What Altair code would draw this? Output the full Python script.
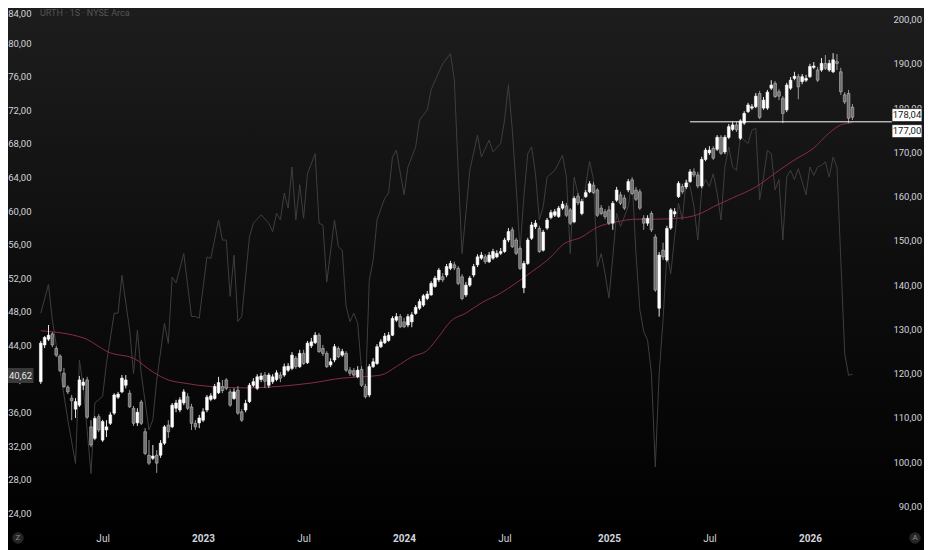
import altair as alt
import pandas as pd

TITLE = "URTH · 1S · NYSE Arca"
START = "2022-03-14"          # first weekly bar
FONT = "Liberation Sans Narrow, Arial Narrow, Roboto, sans-serif"

# ---- weekly OHLC ----
open_ = [118.3,126.6,127.9,129.1,125.8,124.1,120.2,117.1,114.6,112.1,
         113.0,117.5,118.7,108.1,105.5,110.4,105.1,107.4,108.9,111.2,
         114.8,116.0,117.5,115.7,112.3,109.0,113.7,107.0,101.7,101.0,
         101.7,101.7,104.4,108.5,108.1,112.3,111.9,113.5,114.9,112.6,
         108.9,109.0,109.6,111.9,114.3,114.5,115.8,117.2,118.7,116.0,
         114.5,116.4,111.5,111.9,113.8,117.5,116.8,118.8,119.8,117.5,
         118.3,118.8,119.8,119.8,120.9,121.3,123.6,121.7,124.7,122.6,
         126.4,127.1,128.8,125.8,124.7,122.1,123.2,125.8,124.3,124.7,
         120.9,120.8,119.4,121.1,117.2,115.3,121.7,122.4,126.2,127.1,
         127.6,128.8,132.2,133.0,131.8,131.1,131.8,133.7,134.9,135.6,
         137.1,137.9,139.8,141.3,142.0,142.4,143.9,144.7,143.9,142.0,
         137.9,140.1,142.4,144.7,146.2,146.5,145.4,146.2,146.5,147.3,
         147.7,150.3,152.6,150.3,148.4,139.5,145.0,150.7,153.3,152.9,
         148.0,153.0,155.4,155.9,155.6,157.5,158.0,157.1,154.4,160.2,
         156.3,160.1,161.2,162.7,161.6,157.5,156.7,157.1,154.1,159.3,
         160.5,159.8,161.6,163.9,161.6,161.2,155.2,154.1,156.3,151.0,
         134.9,148.0,145.8,153.0,156.2,160.1,162.4,162.3,163.5,165.7,
         165.0,162.5,168.5,170.0,171.0,170.8,173.5,170.2,173.5,175.3,
         176.3,173.3,176.7,179.3,180.1,180.4,183.4,180.1,180.1,184.6,
         185.7,183.8,182.3,179.7,184.6,186.8,187.2,186.1,186.4,187.2,
         189.3,188.7,188.7,190.2,188.7,188.3,190.6,188.3,183.1,183.4,
         180.3]
high = [127.5,128.6,131.1,129.5,126.3,124.5,121.4,117.5,115.3,114.6,
        119.6,119.1,119.4,109.6,110.5,111.0,109.7,109.6,111.4,115.7,
        116.0,119.8,119.8,116.4,112.8,112.3,114.2,107.8,105.1,104.0,
        102.8,105.1,108.5,109.6,113.5,114.2,114.8,116.6,115.7,113.3,
        109.6,110.8,112.3,115.3,115.7,117.8,119.4,118.7,119.1,116.6,
        116.8,117.3,112.1,114.2,118.0,119.1,120.0,120.3,120.5,120.3,
        120.0,120.9,120.5,122.4,122.5,125.0,124.1,125.5,125.5,127.5,
        128.2,129.5,129.3,126.6,125.2,123.6,126.8,126.3,125.7,125.2,
        121.6,121.4,121.8,121.8,117.8,122.3,123.6,126.8,127.9,129.3,
        129.5,133.1,133.8,133.6,132.7,133.6,134.0,135.6,137.0,138.1,
        138.8,141.0,142.2,144.0,142.8,144.9,145.6,145.4,144.4,142.6,
        140.8,142.2,144.9,147.1,147.6,147.1,147.6,148.3,148.0,148.5,
        150.8,153.0,153.2,150.8,148.9,145.6,150.8,154.4,154.8,153.5,
        152.6,155.3,157.1,157.3,158.0,159.1,158.7,157.5,160.2,160.9,
        159.6,161.6,163.6,163.4,162.0,158.2,157.3,158.0,159.1,162.3,
        161.2,160.5,164.1,164.5,162.3,161.8,155.9,155.9,156.8,151.6,
        147.6,149.7,153.5,157.5,157.5,163.6,163.0,163.9,166.3,166.5,
        165.7,169.1,171.1,171.5,171.5,174.0,174.0,174.0,176.5,177.0,
        177.0,177.6,179.4,181.3,181.0,183.5,184.0,182.6,184.2,186.4,
        186.2,184.4,182.8,185.8,187.1,188.3,187.8,187.8,187.6,190.1,
        190.5,189.4,191.4,192.1,191.0,192.5,192.3,189.2,183.7,184.2,
        181.0]
low = [117.8,125.9,127.5,126.1,123.9,120.5,116.9,115.5,109.6,110.1,
       112.6,116.4,109.9,103.5,105.1,106.9,104.7,105.8,108.5,110.8,
       114.4,115.7,116.8,112.4,108.3,108.3,108.5,101.7,99.5,100.6,
       97.7,101.1,104.0,105.6,107.8,111.4,111.4,113.0,111.9,107.4,
       107.4,107.8,109.2,111.4,113.9,114.2,115.5,115.7,116.4,112.6,
       114.2,110.8,109.2,111.4,113.5,117.1,116.4,118.2,116.9,116.9,
       117.8,118.4,118.2,119.4,120.5,120.9,121.2,121.4,122.1,122.3,
       125.9,126.8,124.8,124.1,121.4,121.6,122.7,123.6,123.9,120.5,
       119.6,119.4,119.1,117.1,114.5,114.8,121.4,122.1,125.9,126.8,
       127.3,128.6,131.8,130.4,130.4,130.6,130.6,133.4,134.5,135.2,
       136.7,137.7,139.5,140.8,140.8,141.9,143.5,143.5,140.1,136.7,
       137.4,139.7,141.9,144.2,145.8,144.9,145.1,145.8,146.2,146.9,
       147.4,149.8,148.5,146.9,143.5,138.3,144.7,150.3,152.8,147.4,
       147.7,152.6,155.0,155.5,155.3,157.1,155.5,153.7,154.1,158.2,
       155.9,159.8,160.9,160.7,155.5,155.9,155.0,153.7,152.6,158.9,
       158.2,157.1,161.1,160.5,159.1,157.1,152.6,153.5,152.1,138.6,
       133.0,145.8,145.4,152.6,155.5,159.8,160.7,161.8,163.2,164.5,
       162.0,162.0,168.1,169.5,168.4,170.4,169.5,169.7,173.1,174.9,
       174.7,172.9,176.3,179.0,179.7,180.1,177.6,179.7,179.7,184.2,
       182.4,181.9,176.7,179.2,184.2,186.4,182.1,185.5,186.0,186.9,
       188.9,186.0,188.3,188.7,188.3,188.0,188.7,183.1,181.0,176.7,
       177.4]
close = [127.0,128.3,128.8,126.6,124.3,120.8,117.2,116.0,114.0,113.8,
         118.7,118.2,110.3,104.0,110.0,107.4,109.3,108.1,110.8,115.3,
         115.5,119.1,118.7,112.6,108.9,111.4,108.9,102.1,99.9,101.5,
         99.9,104.4,108.1,107.0,113.0,113.5,114.2,116.0,112.3,108.9,
         108.1,110.1,111.5,114.8,115.1,117.2,118.1,116.3,116.8,113.0,
         116.0,111.2,109.6,113.4,117.5,118.3,119.4,119.6,118.4,119.8,
         119.4,120.3,119.1,121.7,121.8,124.3,121.7,124.7,122.4,127.0,
         127.3,128.8,125.1,124.7,121.7,122.8,126.2,123.9,125.1,120.9,
         120.2,119.8,120.9,117.5,114.9,121.7,122.8,126.2,127.3,128.6,
         128.8,132.6,133.0,130.7,130.7,133.0,133.4,135.1,136.4,137.7,
         138.1,140.5,141.7,143.5,141.3,144.3,145.0,144.0,140.5,137.1,
         140.1,141.7,144.3,146.5,146.9,145.4,146.9,147.7,147.3,147.7,
         150.3,152.2,148.8,147.3,143.9,145.0,150.3,153.7,154.1,147.7,
         152.1,154.8,156.5,156.7,157.5,158.4,155.9,154.1,159.7,158.7,
         159.0,161.0,163.0,161.0,155.9,156.3,155.6,154.1,158.6,161.6,
         158.6,157.5,163.5,160.8,159.5,157.5,154.1,155.2,152.6,139.0,
         146.9,146.5,152.9,157.1,156.7,163.1,161.2,163.2,165.7,165.0,
         162.5,168.5,170.6,170.6,168.8,173.5,169.9,173.5,175.9,176.3,
         175.2,177.2,178.9,180.8,180.4,182.8,178.0,181.9,183.7,185.3,
         182.7,182.8,178.9,185.3,186.4,187.3,184.9,187.2,186.8,189.5,
         189.6,186.4,190.2,189.1,190.2,191.0,190.2,183.8,181.5,177.8,
         178.04]

# ---- moving average (red), sampled at week numbers ----
ma_week = [0,11,18,24,29,33,37,44,53,61,70,78,83,88,92,96,100,103,106,110,
           114,119,123,127,132,135,140,144,149,154,159,166,171,174,179,185,
           190,195,200,204,207,210]
ma_value = [129.8,128.2,124.8,123.6,120.5,118.7,118.0,117.2,116.9,117.2,
            118.0,119.1,119.4,119.8,121.7,123.9,125.4,128.5,131.9,133.8,
            136.1,138.3,140.6,143.1,146.5,149.2,151.0,153.2,154.4,155.0,
            155.0,155.3,156.4,157.8,159.8,162.3,165.4,168.4,171.1,174.5,
            176.3,176.8]

# ---- grey oscillator (left scale) ----
osc_week = [0,2,3,5,7,9,10,11,13,14,
            16,17,19,20,21,23,24,25,26,28,
            29,30,32,33,34,35,37,39,40,41,
            43,44,46,47,48,49,50,51,52,54,
            55,57,59,60,61,62,63,64,65,66,
            67,68,69,71,72,73,74,76,77,78,
            79,80,81,82,83,84,85,86,87,89,
            90,91,92,94,95,97,98,100,101,103,
            104,106,107,108,109,110,111,113,114,116,
            117,119,120,121,122,123,124,125,126,127,
            128,129,130,131,133,135,136,137,138,140,
            142,143,144,145,146,147,148,149,150,152,
            153,154,155,156,157,158,159,160,161,162,
            163,164,165,166,167,168,169,170,171,172,
            173,174,175,176,177,178,179,180,181,183,
            184,185,186,187,188,189,190,191,192,193,
            194,195,196,198,199,200,201,202,203,204,
            205,206,207,208,209,210]
osc_value = [47.9,51.3,47.1,41.1,35.2,30.0,42.3,39.1,28.8,37.2,
             38.0,41.9,47.9,47.9,52.4,45.9,40.7,45.9,40.7,34.0,
             35.2,39.9,46.7,44.3,52.2,51.5,55.0,47.5,47.5,47.3,
             54.6,54.4,59.0,56.6,56.6,49.9,54.8,46.9,47.5,57.0,
             58.6,59.6,58.6,57.6,59.8,59.0,62.2,60.4,65.3,59.0,
             63.2,59.2,64.5,66.9,58.6,58.4,51.6,59.0,55.8,55.4,
             48.7,46.9,47.9,46.7,41.1,38.4,51.8,54.2,59.0,61.6,
             62.2,66.5,67.3,62.0,65.3,67.7,70.9,72.1,74.5,76.6,
             77.6,78.8,75.7,64.9,55.0,59.8,64.9,69.1,66.5,68.5,
             67.1,68.1,70.9,75.1,69.7,63.0,55.4,61.8,66.9,67.7,
             64.5,59.0,60.6,64.1,64.9,66.7,64.1,55.0,64.1,60.2,
             66.0,63.8,53.4,55.0,52.6,49.7,54.6,59.8,58.2,60.6,
             63.8,55.0,48.3,45.7,44.7,40.7,29.6,40.7,47.1,55.0,
             52.6,57.0,61.0,59.0,63.8,63.0,60.6,56.6,62.6,63.8,
             63.0,64.5,62.2,59.0,65.3,67.7,65.3,64.9,68.9,68.1,
             69.7,69.9,61.4,64.1,67.3,66.9,62.6,63.8,56.6,64.1,
             64.9,63.8,65.1,62.0,65.3,64.3,65.3,65.5,65.9,64.1,
             66.5,65.3,54.2,43.1,40.5,40.62]

LEVEL = 177.0
LEVEL_FROM_WEEK = 168
LAST_CLOSE = 178.04
LAST_OSC = 40.62
price_ticks = [90, 100, 110, 120, 130, 140, 150, 160, 170, 180, 190, 200]
osc_ticks = [24, 28, 32, 36, 40, 44, 48, 52, 56, 60, 64, 68, 72, 76, 80]
osc_top_tick = [84]
x_ticks = [(2022, 7, 4), (2023, 1, 2), (2023, 7, 3), (2024, 1, 1),
           (2024, 7, 1), (2025, 1, 6), (2025, 7, 7), (2026, 1, 5)]

# ---------------------------------------------------------------
W, H = 857, 517
PAD_L, PAD_R = 25, 34          # 25 + 857 + 34 = 916 = visible width
start = pd.Timestamp(START)
dates = pd.date_range(START, periods=len(close), freq="7D")
df = pd.DataFrame({"date": dates, "open": open_, "high": high, "low": low, "close": close})
df["dir"] = ["up" if c >= o else "down" for o, c in zip(open_, close)]

ma_df = pd.DataFrame({"date": [start + pd.Timedelta(days=7 * w) for w in ma_week], "v": ma_value})
osc_df = pd.DataFrame({"date": [start + pd.Timedelta(days=7 * w) for w in osc_week], "v": osc_value})

fmt = lambda v: f"{v:.2f}".replace(".", ",")

price_scale = alt.Scale(domain=[85.93, 202.71], nice=False, zero=False)
osc_scale = alt.Scale(domain=[22.68, 84.23], nice=False, zero=False)
x_scale = alt.Scale(domain=[alt.DateTime(year=2022, month=3, date=9),
                            alt.DateTime(year=2026, month=5, date=21)])
LABEL = "#d1d4dc"
LFS = 9.5
x_axis = alt.Axis(values=[alt.DateTime(year=y, month=m, date=d) for y, m, d in x_ticks],
                  labelExpr="month(datum.value) == 6 ? 'Jul' : timeFormat(datum.value, '%Y')",
                  labelFontWeight={"condition": {"test": "month(datum.value) == 0", "value": "bold"},
                                   "value": "normal"},
                  title=None, grid=False, domain=False, ticks=False, tickSize=0, zindex=1,
                  labelPadding=8, labelColor=LABEL, labelFontSize=10, labelFont=FONT)


def X():
    return alt.X("date:T", scale=x_scale, axis=x_axis)


one = pd.DataFrame({"k": [0]})

bg = alt.Chart(one).mark_rect(
    color=alt.LinearGradient(gradient="linear",
                             stops=[alt.GradientStop(offset=0, color="#1d1d1d"),
                                    alt.GradientStop(offset=0.5, color="#0d0d0d"),
                                    alt.GradientStop(offset=1, color="#000000")],
                             x1=0, x2=0, y1=0, y2=1)
).encode(x=alt.value(-PAD_L), x2=alt.value(W + PAD_R), y=alt.value(0), y2=alt.value(H + 25))

# left scale labels (drawn as text through the oscillator scale)
osc_lab = alt.Chart(pd.DataFrame({"v": osc_ticks, "t": [fmt(v) for v in osc_ticks]})).mark_text(
    font=FONT, fontSize=LFS, color=LABEL, align="right", baseline="middle").encode(
    x=alt.value(-1.5), y=alt.Y("v:Q", scale=osc_scale, axis=None), text="t:N")
osc_lab_top = alt.Chart(pd.DataFrame({"v": osc_top_tick, "t": [fmt(v) for v in osc_top_tick]})).mark_text(
    font=FONT, fontSize=LFS, color=LABEL, align="right", baseline="top", yOffset=-0.5).encode(
    x=alt.value(-1.5), y=alt.Y("v:Q", scale=osc_scale, axis=None), text="t:N")

# right scale labels (drawn as text through the price scale)
price_lab = alt.Chart(pd.DataFrame({"v": price_ticks, "t": [fmt(v) for v in price_ticks]})).mark_text(
    font=FONT, fontSize=LFS, color=LABEL, align="right", baseline="middle").encode(
    x=alt.value(W + 32), y=alt.Y("v:Q", scale=price_scale, axis=None), text="t:N")

osc_line = alt.Chart(osc_df).mark_line(color="#3e3e3e", strokeWidth=1).encode(
    x=X(), y=alt.Y("v:Q", scale=osc_scale, axis=None))

ma_line = alt.Chart(ma_df).mark_line(color="#8a2c40", strokeWidth=1, interpolate="monotone").encode(
    x=X(), y=alt.Y("v:Q", scale=price_scale, axis=None))

wicks = alt.Chart(df).mark_rule(strokeWidth=1).encode(
    x=X(), y=alt.Y("low:Q", scale=price_scale, axis=None), y2="high:Q",
    color=alt.Color("dir:N", scale=alt.Scale(domain=["up", "down"], range=["#e6e6e6", "#9a9a9a"]),
                    legend=None))

bodies = alt.Chart(df).mark_bar(size=2.7, strokeWidth=0.6).encode(
    x=X(), y=alt.Y("open:Q", scale=price_scale, axis=None), y2="close:Q",
    fill=alt.Fill("dir:N", scale=alt.Scale(domain=["up", "down"], range=["#ffffff", "#6e6e6e"]),
                  legend=None),
    stroke=alt.Stroke("dir:N", scale=alt.Scale(domain=["up", "down"], range=["#ffffff", "#bdbdbd"]),
                      legend=None))

TAG_X = W + 17                 # centre of the price tags on the right scale
level_df = pd.DataFrame({"date": [dates[LEVEL_FROM_WEEK]], "v": [LEVEL]})
level_rule = alt.Chart(level_df).mark_rule(color="#ffffff", strokeWidth=1).encode(
    x=X(), x2=alt.value(TAG_X - 15), y=alt.Y("v:Q", scale=price_scale, axis=None))

BOX_PRICE = "M-1,-0.433H1V0.433H-1Z"
def price_tag(value, dy):
    d = pd.DataFrame({"v": [value], "t": [fmt(value)]})
    box = alt.Chart(d).mark_point(shape=BOX_PRICE, size=900, filled=True, fill="#ffffff",
                                  stroke="#202020", strokeWidth=0.8, opacity=1, yOffset=dy).encode(
        x=alt.value(TAG_X), y=alt.Y("v:Q", scale=price_scale, axis=None))
    txt = alt.Chart(d).mark_text(font=FONT, fontSize=LFS, color="#131722", align="center",
                                 baseline="middle", yOffset=dy).encode(
        x=alt.value(TAG_X), y=alt.Y("v:Q", scale=price_scale, axis=None), text="t:N")
    return [box, txt]

osc_d = pd.DataFrame({"v": [LAST_OSC], "t": [fmt(LAST_OSC)]})
osc_box = alt.Chart(osc_d).mark_point(shape="M-1,-0.577H1V0.577H-1Z", size=676, filled=True,
                                      color="#3a3a3a", opacity=1, yOffset=1.2).encode(
    x=alt.value(-12.5), y=alt.Y("v:Q", scale=osc_scale, axis=None))
osc_txt = alt.Chart(osc_d).mark_text(font=FONT, fontSize=LFS, color="#e8e8e8", align="center",
                                     baseline="middle", yOffset=1.2).encode(
    x=alt.value(-12.5), y=alt.Y("v:Q", scale=osc_scale, axis=None), text="t:N")

title = alt.Chart(pd.DataFrame({"t": [TITLE]})).mark_text(
    font=FONT, fontSize=9, color="#555555", align="left", baseline="middle").encode(
    x=alt.value(7), y=alt.value(5), text="t:N")

icons = []
for letter, px in [("Z", -15), ("A", 882)]:
    d = pd.DataFrame({"t": [letter]})
    icons.append(alt.Chart(d).mark_point(shape="circle", size=130, filled=True, color="#262626",
                                         opacity=1).encode(x=alt.value(px), y=alt.value(H + 13)))
    icons.append(alt.Chart(d).mark_text(font=FONT, fontSize=8, color="#8a8a8a", align="center",
                                        baseline="middle").encode(
        x=alt.value(px), y=alt.value(H + 13), text="t:N"))

layers = [bg, osc_lab, osc_lab_top, price_lab, osc_line, ma_line, wicks, bodies, level_rule]
layers += price_tag(LAST_CLOSE, -2.1)
layers += price_tag(LEVEL, 9.3)
layers += [osc_box, osc_txt, title] + icons

chart = alt.layer(*layers).resolve_scale(
    y="independent", color="independent", fill="independent", stroke="independent"
).properties(
    width=W, height=H,
    padding={"left": PAD_L, "top": 0, "right": PAD_R, "bottom": 25},
    autosize=alt.AutoSizeParams(type="none"),
    background="#000000",
).configure_view(stroke=None)

chart.save("out.html", embed_options={"renderer": "svg", "actions": False})
